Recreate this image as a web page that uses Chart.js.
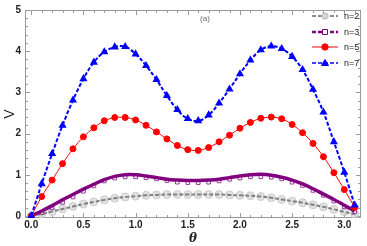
<!DOCTYPE html>
<html>
<head>
<meta charset="utf-8">
<script src="https://cdn.jsdelivr.net/npm/chart.js@4.4.0/dist/chart.umd.min.js"></script>
<style>
html,body{margin:0;padding:0;background:#fff}
#wrap{width:367px;height:246px}
</style>
</head>
<body>
<div id="wrap"><canvas id="myChart"></canvas></div>
<script>
// theta values, 0 .. 3.1
const theta = [0,0.1,0.2,0.3,0.4,0.5,0.6,0.7,0.8,0.9,1.0,1.1,1.2,1.3,1.4,1.5,
               1.6,1.7,1.8,1.9,2.0,2.1,2.2,2.3,2.4,2.5,2.6,2.7,2.8,2.9,3.0,3.1];

const n2 = [0,0.05,0.11,0.17,0.23,0.29,0.34,0.39,0.43,0.46,0.48,0.50,0.51,0.52,0.52,0.52,
            0.52,0.52,0.52,0.51,0.50,0.49,0.47,0.44,0.40,0.36,0.32,0.27,0.22,0.16,0.10,0.04];
const n3Line = [0,0.12,0.25,0.39,0.52,0.65,0.77,0.88,0.96,1.00,1.00,0.97,0.93,0.89,0.87,0.86,
                0.86,0.87,0.89,0.93,0.97,1.00,1.01,0.99,0.94,0.87,0.78,0.66,0.53,0.40,0.26,0.12];
const n3Marks = [0,0.08,0.20,0.33,0.46,0.60,0.73,0.85,0.92,0.95,0.95,0.93,0.90,0.86,0.82,0.81,
                 0.81,0.82,0.85,0.89,0.92,0.95,0.95,0.94,0.90,0.82,0.74,0.62,0.50,0.36,0.22,0.10];
const n5 = [0,0.47,0.87,1.27,1.63,1.92,2.14,2.31,2.39,2.39,2.33,2.20,2.04,1.87,1.71,1.61,
            1.59,1.66,1.80,1.96,2.13,2.27,2.37,2.40,2.36,2.22,2.02,1.76,1.44,1.05,0.64,0.21];
const n7 = [0,0.78,1.51,2.20,2.81,3.33,3.73,3.98,4.10,4.11,3.93,3.65,3.31,2.92,2.58,2.36,
            2.31,2.45,2.74,3.08,3.45,3.78,4.03,4.12,4.06,3.87,3.55,3.07,2.52,1.80,1.06,0.26];

const xTicks = [0,0.5,1.0,1.5,2.0,2.5,3.0];
const yTicks = [0,1,2,3,4,5];
const legendLabels = ['n=2','n=3','n=5','n=7'];

function pts(vals){
    return theta.map((t, i) => ({x: t, y: vals[i]}));
}

// frame with inward ticks, drawn under the curves
const framePlugin = {
    id: 'frame',
    beforeDatasetsDraw(chart){
        const ctx = chart.ctx;
        const a = chart.chartArea;
        const xs = chart.scales.x, ys = chart.scales.y;
        ctx.save();
        ctx.strokeStyle = '#9a9a9a';
        ctx.lineWidth = 1;
        ctx.strokeRect(a.left + 0.5, a.top + 0.5, a.right - a.left - 1, a.bottom - a.top - 1);
        ctx.beginPath();
        for (let i = 0; i <= 31; i++) {
            const px = Math.round(xs.getPixelForValue(i / 10)) + 0.5;
            const len = (i % 5 === 0) ? 5 : 3;
            ctx.moveTo(px, a.bottom); ctx.lineTo(px, a.bottom - len);
            ctx.moveTo(px, a.top); ctx.lineTo(px, a.top + len);
        }
        for (let i = 0; i <= 25; i++) {
            const py = Math.round(ys.getPixelForValue(i / 5)) + 0.5;
            const len = (i % 5 === 0) ? 5 : 3;
            ctx.moveTo(a.left, py); ctx.lineTo(a.left + len, py);
            ctx.moveTo(a.right, py); ctx.lineTo(a.right - len, py);
        }
        ctx.stroke();
        ctx.restore();
    },
    afterDraw(chart){
        const ctx = chart.ctx;
        ctx.save();
        ctx.fillStyle = '#666';
        ctx.font = '8px "Liberation Sans", Arial, sans-serif';
        ctx.textAlign = 'center';
        ctx.textBaseline = 'middle';
        ctx.fillText('(a)', 205, 19);

        // legend: line sample + marker + label
        const styles = [
            {color:'#8a8a8a', dash:[4,2], w:2, mk:'circle', fill:'#d4d4d4', stroke:'#bdbdbd'},
            {color:'#800080', dash:[4,2], w:2.5, mk:'square', fill:'#fff', stroke:'#800080'},
            {color:'#ff0000', dash:[], w:1, mk:'circle', fill:'#ff0000', stroke:'#ff0000'},
            {color:'#0000ff', dash:[4,2], w:1.5, mk:'triangle', fill:'#0000ff', stroke:'#0000ff'}
        ];
        const rows = [16, 32, 47, 63];
        ctx.font = '9px "Liberation Sans", Arial, sans-serif';
        ctx.textAlign = 'left';
        for (let i = 0; i < 4; i++) {
            const s = styles[i], y = rows[i];
            ctx.strokeStyle = s.color;
            ctx.lineWidth = s.w;
            ctx.setLineDash(s.dash);
            ctx.beginPath(); ctx.moveTo(312, y); ctx.lineTo(338, y); ctx.stroke();
            ctx.setLineDash([]);
            ctx.fillStyle = s.fill;
            ctx.strokeStyle = s.stroke;
            ctx.lineWidth = 1;
            ctx.beginPath();
            if (s.mk === 'circle') ctx.arc(325, y, 3.2, 0, Math.PI * 2);
            else if (s.mk === 'square') ctx.rect(322.5, y - 2.5, 5, 5);
            else { ctx.moveTo(325, y - 3.5); ctx.lineTo(328.5, y + 2.5); ctx.lineTo(321.5, y + 2.5); ctx.closePath(); }
            ctx.fill(); ctx.stroke();
            ctx.fillStyle = '#222';
            ctx.fillText(legendLabels[i], 344, y + 0.5);
        }
        ctx.restore();
    }
};

const ctx = document.getElementById('myChart').getContext('2d');
const myChart = new Chart(ctx, {
    type: 'line',
    data: {
        datasets: [
            {label: 'n=2 marks', data: pts(n2), showLine: false, pointRadius: 4,
             pointBackgroundColor: 'rgba(210,210,210,0.65)', pointBorderColor: 'rgba(195,195,195,0.8)',
             pointBorderWidth: 1, order: 6},
            {label: 'n=2', data: pts(n2), borderColor: '#808080', borderWidth: 2, borderDash: [4,2],
             pointRadius: 0, tension: 0.4, order: 5},
            {label: 'n=3 marks', data: pts(n3Marks), showLine: false, pointStyle: 'rect', pointRadius: 2.6,
             pointBackgroundColor: 'rgba(255,255,255,0)', pointBorderColor: '#9a3a9a', pointBorderWidth: 1, order: 4},
            {label: 'n=3', data: pts(n3Line), borderColor: '#800080', borderWidth: 3.5,
             pointRadius: 0, tension: 0.4, order: 3},
            {label: 'n=5', data: pts(n5), borderColor: '#ff0000', borderWidth: 1, pointRadius: 3,
             pointBackgroundColor: '#ff0000', pointBorderColor: '#ff0000', tension: 0.3, order: 2},
            {label: 'n=7', data: pts(n7), borderColor: '#0000ff', borderWidth: 2, borderDash: [4,2],
             pointStyle: 'triangle', pointRadius: 2.7, pointBackgroundColor: '#0000ff',
             pointBorderColor: '#0000ff', tension: 0.4, order: 1}
        ]
    },
    options: {
        responsive: true,
        maintainAspectRatio: false,
        animation: false,
        layout: {padding: {top: 5, right: 2, left: 0, bottom: 0}},
        plugins: {legend: {display: false}, tooltip: {enabled: false}},
        scales: {
            x: {
                type: 'linear', min: -0.06, max: 3.16,
                afterBuildTicks: s => { s.ticks = xTicks.map(v => ({value: v})); },
                afterFit: s => { s.height = 28; },
                grid: {display: false, drawTicks: false}, border: {display: false},
                ticks: {padding: 1, color: '#222', font: {family: '"Liberation Sans", Arial', size: 10, weight: 'bold'},
                        callback: v => v.toFixed(1)},
                title: {display: true, text: 'θ', color: '#222', padding: {top: 0, bottom: 0},
                        font: {family: '"DejaVu Serif", serif', size: 12, weight: 'bold', style: 'italic'}}
            },
            y: {
                min: -0.05, max: 5,
                afterBuildTicks: s => { s.ticks = yTicks.map(v => ({value: v})); },
                afterFit: s => { s.width = 25; },
                grid: {display: false, drawTicks: false}, border: {display: false},
                ticks: {padding: 4, color: '#222', font: {family: '"Liberation Sans", Arial', size: 10, weight: 'bold'}},
                title: {display: true, text: 'V', color: '#222', padding: {top: 2, bottom: 0},
                        font: {family: '"Liberation Sans", Arial', size: 14}}
            }
        }
    },
    plugins: [framePlugin]
});
</script>
</body>
</html>
